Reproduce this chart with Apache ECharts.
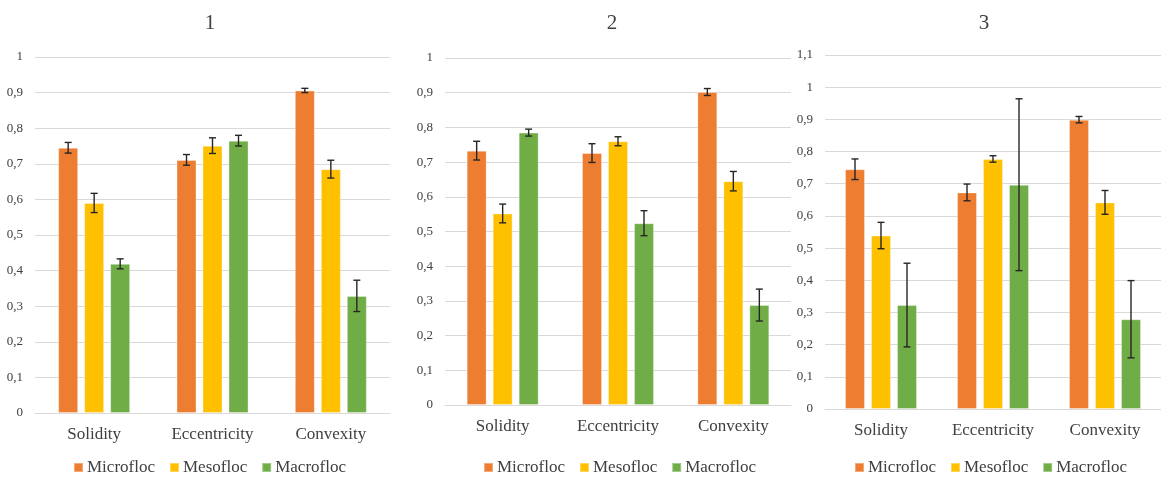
<!DOCTYPE html>
<html>
<head>
<meta charset="utf-8">
<script src="https://cdn.jsdelivr.net/npm/echarts@6/dist/echarts.min.js"></script>
<style>
html,body{margin:0;padding:0;background:#fff;}
#c{width:1161px;height:479px;}
</style>
</head>
<body>
<div id="c"></div>
<script>
const categories = ['Solidity', 'Eccentricity', 'Convexity'];
const seriesNames = ['Microfloc', 'Mesofloc', 'Macrofloc'];
const panelTitles = ['1', '2', '3'];
const yMax = [1, 1, 1.1];

const p1Micro = [0.745, 0.711, 0.906];
const p1MicroErr = [0.015, 0.015, 0.006];
const p1Meso = [0.590, 0.751, 0.685];
const p1MesoErr = [0.027, 0.022, 0.025];
const p1Macro = [0.419, 0.765, 0.329];
const p1MacroErr = [0.014, 0.015, 0.044];

const p2Micro = [0.733, 0.726, 0.902];
const p2MicroErr = [0.027, 0.027, 0.010];
const p2Meso = [0.552, 0.760, 0.645];
const p2MesoErr = [0.027, 0.013, 0.028];
const p2Macro = [0.785, 0.524, 0.288];
const p2MacroErr = [0.010, 0.036, 0.046];

const p3Micro = [0.745, 0.673, 0.899];
const p3MicroErr = [0.032, 0.026, 0.010];
const p3Meso = [0.539, 0.777, 0.642];
const p3MesoErr = [0.041, 0.010, 0.037];
const p3Macro = [0.323, 0.697, 0.279];
const p3MacroErr = [0.130, 0.267, 0.120];

const panels = [
  { vals: [p1Micro, p1Meso, p1Macro], errs: [p1MicroErr, p1MesoErr, p1MacroErr] },
  { vals: [p2Micro, p2Meso, p2Macro], errs: [p2MicroErr, p2MesoErr, p2MacroErr] },
  { vals: [p3Micro, p3Meso, p3Macro], errs: [p3MicroErr, p3MesoErr, p3MacroErr] }
];

const colors = ['#ED7D31', '#FFC000', '#70AD47'];
const FONT = '"Liberation Serif", "Times New Roman", serif';

const grids = [
  { left: 35, top: 57, width: 355, height: 356 },
  { left: 445, top: 58, width: 346, height: 347 },
  { left: 825, top: 55, width: 345, height: 354 }
];
const titlePos = [205, 607, 979];
const legendLeft = [73, 483, 854];

const BAR_W = 20, BAR_GAP = 6;

const option = {
  animation: false,
  backgroundColor: '#fff',
  color: colors,
  title: panelTitles.map((t, i) => ({
    text: t, left: titlePos[i], top: 8, textAlign: 'center',
    textStyle: { fontFamily: FONT, fontSize: 21, fontWeight: 'normal', color: '#404040' }
  })),
  legend: legendLeft.map(l => ({
    data: seriesNames, left: l, top: 459, padding: 0, icon: 'rect', itemWidth: 9, itemHeight: 9, itemGap: 14,
    textStyle: { fontFamily: FONT, fontSize: 17, color: '#404040', padding: [0, 0, 0, -1] }
  })),
  grid: grids.map(g => Object.assign({ containLabel: false }, g)),
  xAxis: grids.map((g, i) => ({
    type: 'category', gridIndex: i, data: categories,
    axisTick: { show: false },
    axisLine: { lineStyle: { color: '#d9d9d9', width: 1 } },
    axisLabel: { fontFamily: FONT, fontSize: 17, color: '#404040', margin: 13 }
  })),
  yAxis: grids.map((g, i) => ({
    type: 'value', gridIndex: i, min: 0, max: yMax[i], interval: 0.1,
    axisLine: { show: false }, axisTick: { show: false },
    splitLine: { lineStyle: { color: '#d9d9d9', width: 1 } },
    axisLabel: {
      fontFamily: FONT, fontSize: 13, color: '#404040', margin: 12,
      formatter: v => String(+v.toFixed(1)).replace('.', ',')
    }
  })),
  series: []
};

panels.forEach((p, pi) => {
  p.vals.forEach((vals, si) => {
    option.series.push({
      name: seriesNames[si], type: 'bar', xAxisIndex: pi, yAxisIndex: pi,
      data: vals, barWidth: BAR_W, barGap: '30%',
      itemStyle: { color: colors[si], borderColor: 'rgba(255,255,255,0.35)', borderWidth: 1 }
    });
  });
  p.vals.forEach((vals, si) => {
    const errData = vals.map((v, ci) => [ci, v - p.errs[si][ci], v + p.errs[si][ci]]);
    const offset = (si - 1) * (BAR_W + BAR_GAP);
    option.series.push({
      type: 'custom', xAxisIndex: pi, yAxisIndex: pi, z: 10,
      data: errData,
      renderItem: (params, api) => {
        const lo = api.coord([api.value(0), api.value(1)]);
        const hi = api.coord([api.value(0), api.value(2)]);
        const x = lo[0] + offset;
        const cap = 3.5;
        const st = { stroke: '#262626', lineWidth: 1.4 };
        return { type: 'group', children: [
          { type: 'line', shape: { x1: x, y1: lo[1], x2: x, y2: hi[1] }, style: st },
          { type: 'line', shape: { x1: x - cap, y1: lo[1], x2: x + cap, y2: lo[1] }, style: st },
          { type: 'line', shape: { x1: x - cap, y1: hi[1], x2: x + cap, y2: hi[1] }, style: st }
        ] };
      }
    });
  });
});

const chart = echarts.init(document.getElementById('c'), null, { renderer: 'canvas' });
chart.setOption(option);
</script>
</body>
</html>
